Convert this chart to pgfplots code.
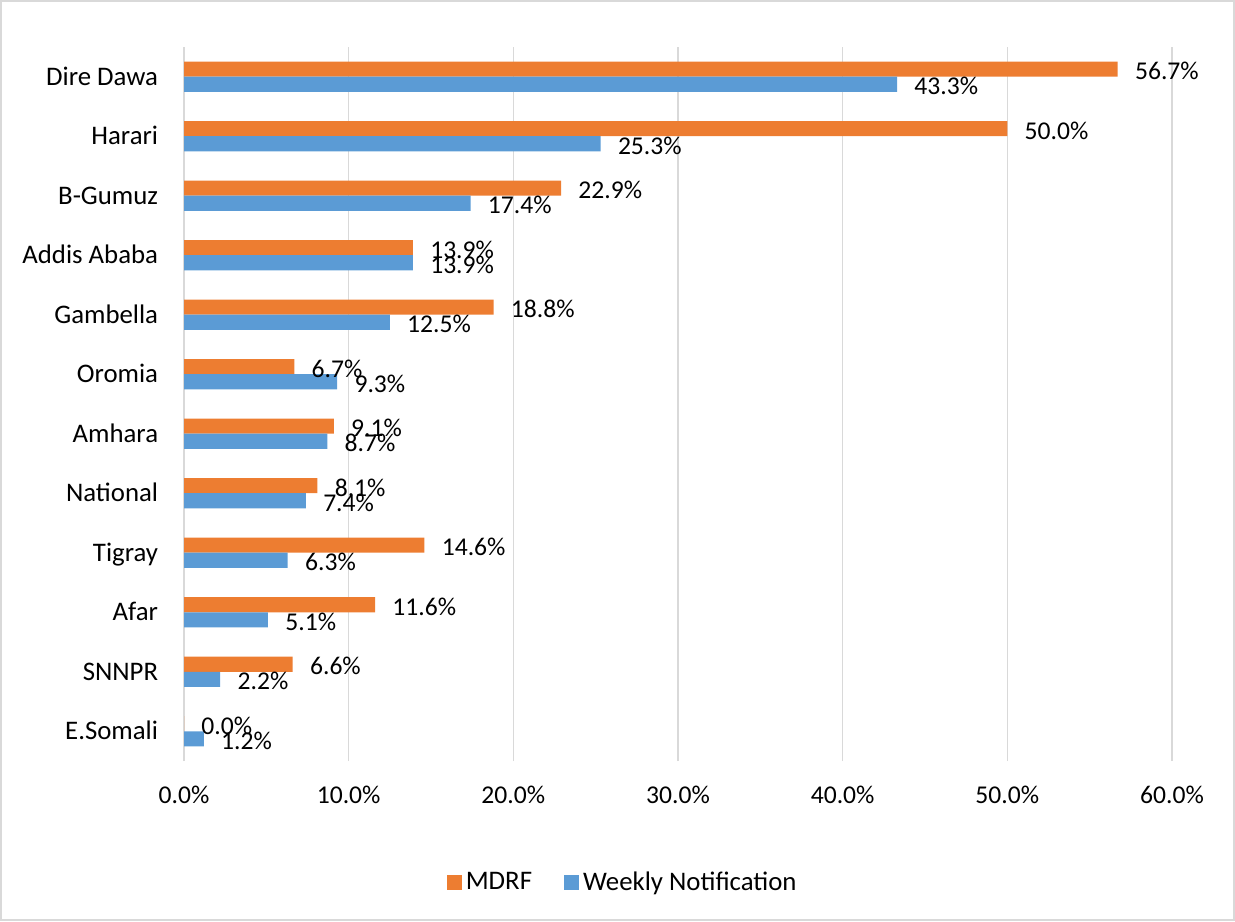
\documentclass[border=0pt]{standalone}
\usepackage{fontspec}
\setmainfont{Carlito}
\usepackage{pgfplots}
\pgfplotsset{compat=1.18}
\definecolor{mdrf}{HTML}{ED7D31}
\definecolor{weekly}{HTML}{5B9BD5}
\definecolor{gridc}{HTML}{D9D9D9}
\newcommand\lf{\fontsize{13.4pt}{16pt}\selectfont}
\newcommand\nf{\fontsize{12.8pt}{15pt}\selectfont}
\begin{document}
\begin{tikzpicture}
\useasboundingbox (0,0) rectangle (617.5pt,460.5pt);
\draw[gridc, line width=1pt] (0.5pt,0.5pt) rectangle (617pt,460pt);
\begin{axis}[
  at={(92pt,80pt)}, anchor=south west,
  scale only axis, width=494pt, height=357pt,
  xbar, bar width=7.6pt,
  xmin=0, xmax=60, ymin=-0.5, ymax=11.5,
  axis x line*=bottom, axis y line*=left,
  axis line style={draw=none},
  tick style={draw=none},
  xmajorgrids, major grid style={gridc, line width=0.75pt},
  xtick={0,10,...,60},
  ytick={0,...,11},
  yticklabels={E.Somali,SNNPR,Afar,Tigray,National,Amhara,Oromia,Gambella,Addis Ababa,B-Gumuz,Harari,Dire Dawa},
  yticklabel style={font=\lf, anchor=east, inner sep=0pt, xshift=-8.5pt, text height=8.6pt, text depth=0pt},
  /pgf/number format/assume math mode=true,
  xticklabel={\pgfmathprintnumber[fixed,fixed zerofill,precision=1]{\tick}\%},
  xticklabel style={font=\nf, anchor=center, inner sep=0pt, yshift=-17pt, text height=8.4pt, text depth=0pt},
  point meta=x,
  nodes near coords={\pgfmathprintnumber[fixed,fixed zerofill,precision=1]{\pgfplotspointmeta}\%},
  nodes near coords style={font=\nf, anchor=west, inner sep=0pt, xshift=8.5pt, yshift=-1pt, text height=8.4pt, text depth=0pt, black},
  legend style={at={(0.445,-0.1705)}, anchor=center, draw=none, font=\lf,
    legend columns=2, /tikz/every even column/.append style={column sep=14pt}},
  legend cell align=left,
  legend image code/.code={\fill (0pt,-3.75pt) rectangle (7.5pt,3.75pt);},
]
\addplot[fill=mdrf, draw=none, bar shift=3.8pt] coordinates {
  (0.0,0) (6.6,1) (11.6,2) (14.6,3) (8.1,4) (9.1,5) (6.7,6) (18.8,7) (13.9,8) (22.9,9) (50.0,10) (56.7,11)};
\addplot[fill=weekly, draw=none, bar shift=-3.8pt] coordinates {
  (1.2,0) (2.2,1) (5.1,2) (6.3,3) (7.4,4) (8.7,5) (9.3,6) (12.5,7) (13.9,8) (17.4,9) (25.3,10) (43.3,11)};
\legend{MDRF, Weekly Notification}
\end{axis}
\end{tikzpicture}
\end{document}
